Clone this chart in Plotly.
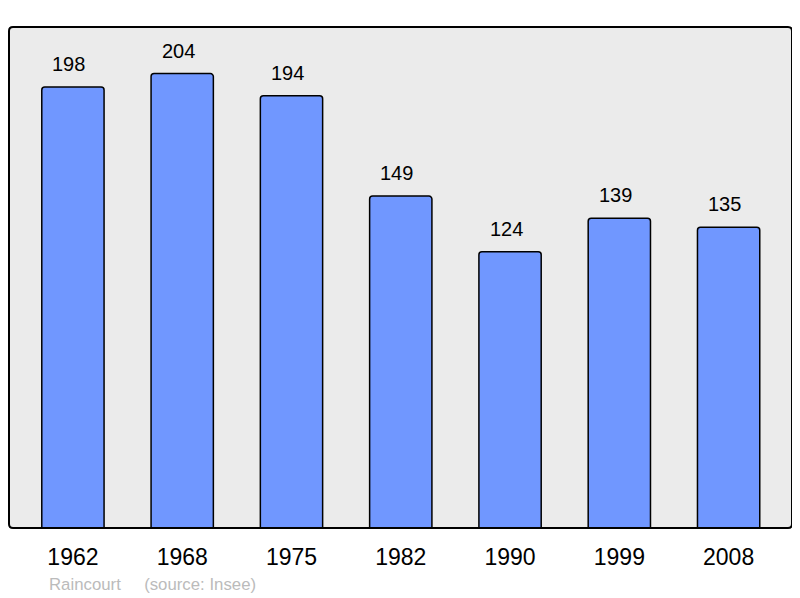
import plotly.graph_objects as go

years = ["1962", "1968", "1975", "1982", "1990", "1999", "2008"]
population = [198, 204, 194, 149, 124, 139, 135]

footer_place = "Raincourt"
footer_source = "(source: Insee)"

fig = go.Figure()
fig.add_trace(go.Bar(
    x=years, y=population,
    width=0.57,
    marker=dict(color="#7097ff", line=dict(color="#000000", width=1.5), cornerradius=3),
    hoverinfo="skip",
))

for i, v in enumerate(population):
    fig.add_annotation(x=i, y=v, text=str(v), showarrow=False, yshift=23, xshift=-4,
                       font=dict(family="Liberation Sans, Arial", size=20, color="#000"))

fig.add_annotation(xref="paper", yref="paper", x=0.0485, y=-0.112, xanchor="left", yanchor="middle",
                   text=footer_place + "&nbsp;&nbsp;&nbsp;&nbsp;&nbsp;" + footer_source, showarrow=False,
                   font=dict(family="Liberation Sans, Arial", size=16.8, color="#bbbbbb"))

# rounded plot-area frame
pw, ph = 783.0, 501.0
rx, ry = 4 / pw, 4 / ph
path = (f"M {rx},0 L {1-rx},0 Q 1,0 1,{ry} L 1,{1-ry} Q 1,1 {1-rx},1 "
        f"L {rx},1 Q 0,1 0,{1-ry} L 0,{ry} Q 0,0 {rx},0 Z")
fig.add_shape(type="path", xref="paper", yref="paper", path=path,
              line=dict(color="#000", width=2), layer="above")

fig.update_layout(
    width=792, height=590,
    margin=dict(l=1, r=8, t=19, b=70),
    plot_bgcolor="#ebebeb", paper_bgcolor="#ffffff",
    showlegend=False,
    xaxis=dict(type="category", range=[-0.585, 6.58], showgrid=False, zeroline=False, showline=False,
               ticks="", tickfont=dict(family="Liberation Sans, Arial", size=23, color="#000"),
               ticklabelstandoff=13),
    yaxis=dict(range=[0, 224.9], showgrid=False, zeroline=False, showticklabels=False, showline=False),
)

fig.write_html("out.html")
